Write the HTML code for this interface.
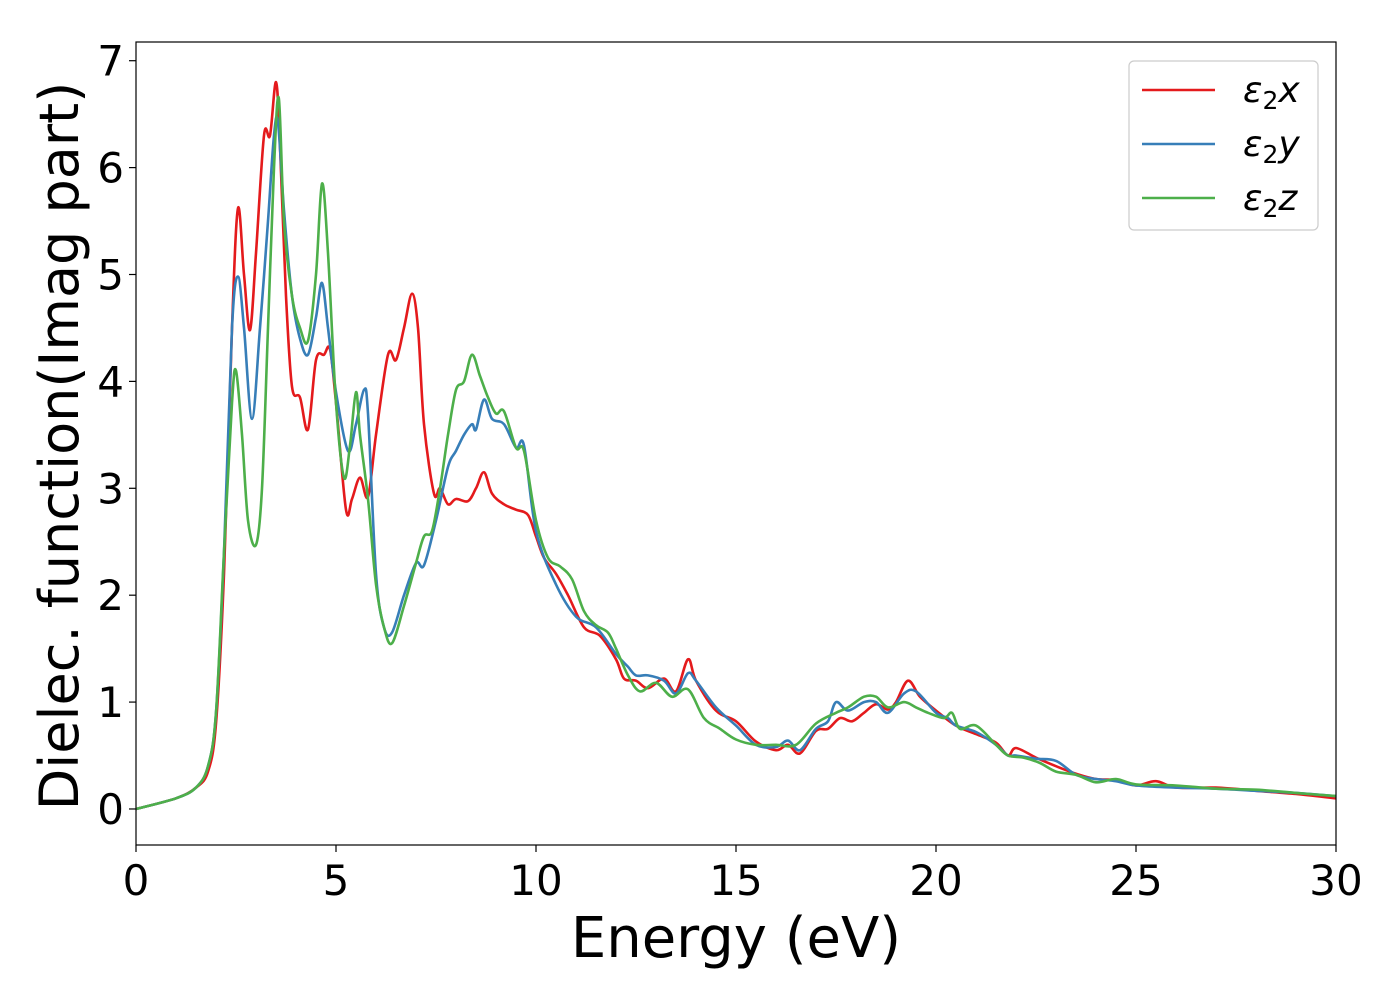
<!DOCTYPE html>
<html><head><meta charset="utf-8"><style>
body{margin:0;background:#fff;}
svg text{font-family:"DejaVu Sans","Liberation Sans",sans-serif;fill:#000;}
</style></head><body>
<svg width="1400" height="1000">
<g id="plot"></g>
</svg>
<script>
const xs = [0,1,1.5,1.8,2.0,2.2,2.4,2.55,2.7,2.85,3.0,3.2,3.35,3.5,3.6,3.75,3.9,4.1,4.3,4.5,4.7,4.85,5.0,5.25,5.4,5.6,5.8,6.0,6.3,6.5,6.7,6.9,7.05,7.2,7.45,7.6,7.8,8.0,8.3,8.5,8.7,8.9,9.2,9.5,9.8,10.0,10.2,10.5,10.8,11.2,11.6,12.0,12.2,12.5,12.8,13.2,13.5,13.8,14.0,14.5,15.0,15.5,16,16.3,16.6,17.0,17.3,17.6,17.9,18.2,18.5,18.8,19.0,19.3,19.6,20.0,20.5,21.0,21.5,21.8,22.0,22.5,23.0,23.5,24.0,24.5,25.0,25.5,26,27,28,29,30];
const epsX = [0,0.1,0.2,0.35,0.8,2.2,4.5,5.62,5.0,4.48,5.2,6.3,6.3,6.8,6.2,4.8,3.95,3.85,3.55,4.2,4.25,4.3,3.8,2.8,2.9,3.1,2.92,3.5,4.25,4.2,4.5,4.82,4.5,3.6,2.95,3.0,2.85,2.9,2.88,3.0,3.15,2.95,2.85,2.8,2.75,2.55,2.35,2.2,2.0,1.7,1.62,1.4,1.22,1.2,1.13,1.22,1.1,1.4,1.2,0.92,0.82,0.63,0.55,0.6,0.52,0.73,0.75,0.85,0.82,0.9,0.98,0.93,1.0,1.2,1.05,0.92,0.78,0.7,0.62,0.5,0.57,0.48,0.4,0.33,0.28,0.27,0.22,0.26,0.2,0.2,0.17,0.14,0.1];
const ysX = [0,1,1.5,1.8,2.0,2.2,2.4,2.55,2.7,2.9,3.1,3.3,3.45,3.55,3.7,3.9,4.1,4.3,4.5,4.65,4.8,5.0,5.3,5.5,5.7,5.8,6.0,6.2,6.4,6.7,7.0,7.2,7.5,7.8,8.0,8.2,8.4,8.5,8.7,8.9,9.2,9.5,9.7,10,10.5,11.0,11.5,12.0,12.3,12.5,12.8,13.2,13.5,13.8,14,14.5,15,15.5,16.0,16.3,16.6,17,17.3,17.5,17.8,18.2,18.5,18.8,19.2,19.5,20,20.3,20.5,21,21.5,21.8,22,22.5,23,23.5,24,24.5,25,26,27,28,29,30];
const epsY = [0,0.1,0.2,0.4,0.9,2.4,4.5,4.98,4.5,3.65,4.5,5.5,6.3,6.42,5.6,4.8,4.4,4.25,4.6,4.92,4.5,3.9,3.35,3.6,3.92,3.7,2.2,1.7,1.65,2.0,2.3,2.28,2.7,3.2,3.35,3.5,3.6,3.55,3.83,3.65,3.6,3.38,3.4,2.6,2.1,1.8,1.7,1.45,1.33,1.25,1.25,1.2,1.08,1.27,1.2,0.95,0.78,0.6,0.58,0.64,0.55,0.75,0.82,1.0,0.92,1.0,1.0,0.9,1.08,1.1,0.9,0.85,0.78,0.72,0.6,0.5,0.5,0.47,0.45,0.32,0.28,0.26,0.22,0.2,0.19,0.17,0.15,0.12];
const zsX = [0,1,1.5,1.8,2.0,2.2,2.4,2.5,2.65,2.8,3.0,3.15,3.3,3.45,3.57,3.7,3.9,4.1,4.3,4.5,4.65,4.8,5.0,5.2,5.35,5.5,5.6,5.8,6.0,6.2,6.4,6.7,7.0,7.2,7.4,7.6,7.8,8.0,8.2,8.4,8.6,8.8,9.0,9.2,9.5,9.7,10,10.3,10.6,10.9,11.2,11.5,11.8,12.0,12.3,12.6,13,13.4,13.8,14.2,14.6,15,15.5,16,16.5,17,17.5,17.8,18.2,18.5,18.8,19.2,19.5,19.8,20.2,20.4,20.6,21,21.5,21.8,22.2,22.6,23,23.5,24,24.5,25,26,27,28,29,30];
const epsZ = [0,0.1,0.2,0.4,0.9,2.4,3.8,4.1,3.5,2.7,2.47,3.0,4.5,6.0,6.65,5.5,4.8,4.5,4.38,5.0,5.85,5.2,3.8,3.1,3.4,3.9,3.5,2.9,2.1,1.7,1.55,1.9,2.3,2.55,2.6,3.0,3.5,3.92,4.0,4.25,4.05,3.85,3.7,3.72,3.38,3.35,2.7,2.35,2.27,2.15,1.85,1.72,1.65,1.5,1.25,1.1,1.18,1.05,1.12,0.85,0.75,0.65,0.6,0.6,0.6,0.8,0.9,0.95,1.05,1.05,0.95,1.0,0.95,0.9,0.85,0.9,0.75,0.78,0.6,0.5,0.48,0.43,0.35,0.32,0.25,0.28,0.23,0.22,0.19,0.18,0.15,0.12];
const xTicks = [0,5,10,15,20,25,30];
const yTicks = [0,1,2,3,4,5,6,7];
const legendLabels = ['x','y','z'];

const L=136,R=1336,T=42,B=845;
const xMin=0,xMax=30,yMin=-0.337,yMax=7.175;
const sx=v=>L+(v-xMin)/(xMax-xMin)*(R-L);
const sy=v=>B-(v-yMin)/(yMax-yMin)*(B-T);
const NS='http://www.w3.org/2000/svg';
const g=document.getElementById('plot');
function mk(tag,attrs,parent){const e=document.createElementNS(NS,tag);for(const k in attrs)e.setAttribute(k,attrs[k]);(parent||g).appendChild(e);return e;}

function pathFor(xa,ya){
  const p=xa.map((x,i)=>[sx(x),sy(ya[i])]);
  let d='M'+p[0][0].toFixed(1)+','+p[0][1].toFixed(1);
  for(let i=0;i<p.length-1;i++){
    const p0=p[Math.max(0,i-1)],p1=p[i],p2=p[i+1],p3=p[Math.min(p.length-1,i+2)];
    const c1=[p1[0]+(p2[0]-p0[0])/6,p1[1]+(p2[1]-p0[1])/6];
    const c2=[p2[0]-(p3[0]-p1[0])/6,p2[1]-(p3[1]-p1[1])/6];
    d+=' C'+c1[0].toFixed(1)+','+c1[1].toFixed(1)+' '+c2[0].toFixed(1)+','+c2[1].toFixed(1)+' '+p2[0].toFixed(1)+','+p2[1].toFixed(1);
  }
  return d;
}
const clip=mk('clipPath',{id:'pc'});mk('rect',{x:L,y:T,width:R-L,height:B-T},clip);
const series=[[xs,epsX,'#e41a1c','series-eps2x'],[ysX,epsY,'#377eb8','series-eps2y'],[zsX,epsZ,'#4daf4a','series-eps2z']];
series.forEach(s=>{
  const e=mk('path',{d:pathFor(s[0],s[1]),fill:'none',stroke:s[2],'stroke-width':2.6,'clip-path':'url(#pc)'});
  
  
});
const frame=mk('rect',{x:L,y:T,width:R-L,height:B-T,fill:'none',stroke:'#000','stroke-width':1.2});


xTicks.forEach(v=>{
  mk('line',{x1:sx(v),x2:sx(v),y1:B,y2:B+7,stroke:'#000','stroke-width':1.2});
  const t=mk('text',{x:sx(v),y:B+50,'text-anchor':'middle','font-size':42});
  t.textContent=v;
  
  
});
yTicks.forEach(v=>{
  mk('line',{x1:L-7,x2:L,y1:sy(v),y2:sy(v),stroke:'#000','stroke-width':1.2});
  const t=mk('text',{x:L-12,y:sy(v)+15,'text-anchor':'end','font-size':42});
  t.textContent=v;
  
  
});
const xt=mk('text',{x:(L+R)/2,y:957,'text-anchor':'middle','font-size':56});
xt.textContent='Energy (eV)';


const yt=mk('text',{x:0,y:0,'text-anchor':'middle','font-size':54,transform:'translate(78,446) rotate(-90)'});
yt.textContent='Dielec. function(Imag part)';


const lg=mk('g',{});


mk('rect',{x:1129,y:61,width:189,height:169,rx:5,fill:'#fff','fill-opacity':0.8,stroke:'#ccc','stroke-width':1.2},lg);
series.forEach((s,i)=>{
  const y=90+i*54;
  mk('line',{x1:1142,x2:1215,y1:y,y2:y,stroke:s[2],'stroke-width':2.6},lg);
  const t=mk('text',{x:1243,y:y+12,'font-size':36,'font-style':'italic'},lg);
  
  
  const a=document.createElementNS(NS,'tspan');a.textContent='ε';t.appendChild(a);
  const b=document.createElementNS(NS,'tspan');b.setAttribute('dy','7');b.setAttribute('font-size','25');b.setAttribute('font-style','normal');b.textContent='2';t.appendChild(b);
  const c=document.createElementNS(NS,'tspan');c.setAttribute('dy','-7');c.textContent=legendLabels[i];t.appendChild(c);
});
</script>
</body></html>
